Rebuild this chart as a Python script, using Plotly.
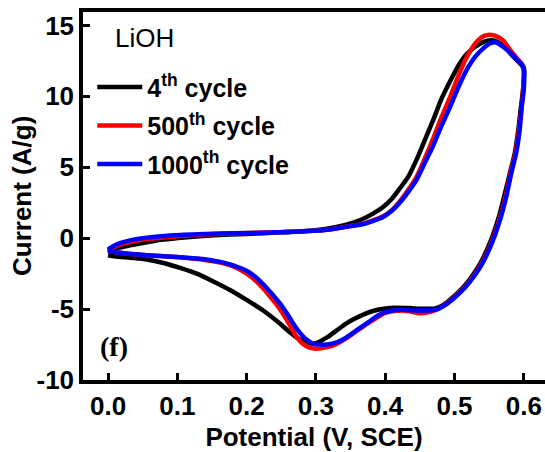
import plotly.graph_objects as go

# 4th cycle (black)
x_4th = [0.0, 0.01, 0.032, 0.06, 0.08, 0.11, 0.152, 0.2, 0.248, 0.296, 0.32, 0.344, 0.365, 0.383, 0.397,
         0.41, 0.421, 0.434, 0.445, 0.457, 0.469, 0.481, 0.494, 0.506, 0.518, 0.53, 0.542, 0.555, 0.565,
         0.575, 0.585, 0.597,
         0.6, 0.599, 0.596, 0.592, 0.587, 0.58, 0.572, 0.564, 0.556, 0.547, 0.537, 0.525, 0.512, 0.497,
         0.484, 0.472, 0.455, 0.435, 0.415, 0.398, 0.385, 0.37, 0.355, 0.344, 0.33, 0.316, 0.305, 0.296,
         0.286, 0.277, 0.267, 0.258, 0.245, 0.224, 0.2, 0.176, 0.152, 0.128, 0.104, 0.08, 0.056, 0.032,
         0.01, 0.0]
y_4th = [-1.0, -0.75, -0.5, -0.25, -0.1, 0.05, 0.2, 0.3, 0.41, 0.55, 0.7, 0.95, 1.3, 1.75, 2.2,
         2.8, 3.5, 4.4, 5.5, 6.9, 8.3, 9.8, 11.1, 12.2, 13.0, 13.5, 13.85, 13.95, 13.75,
         13.35, 12.8, 12.2,
         11.9, 10.5, 9.3, 7.6, 6.0, 4.6, 3.0, 1.5, 0.3, -0.8, -1.8, -2.7, -3.5, -4.2,
         -4.7, -4.95, -4.98, -4.93, -4.9, -4.97, -5.1, -5.35, -5.7, -6.0, -6.5, -7.0, -7.3, -7.45,
         -7.35, -7.15, -6.8, -6.45, -5.9, -5.1, -4.35, -3.65, -3.05, -2.5, -2.1, -1.75, -1.5, -1.38,
         -1.28, -1.2]

# 500th cycle (red)
x_500th = [0.0, 0.01, 0.025, 0.05, 0.08, 0.12, 0.176, 0.248, 0.296, 0.32, 0.344, 0.37, 0.397, 0.41,
           0.421, 0.433, 0.445, 0.457, 0.469, 0.481, 0.494, 0.506, 0.518, 0.532, 0.542, 0.551, 0.56,
           0.57, 0.58, 0.59, 0.597,
           0.6, 0.599, 0.597, 0.593, 0.588, 0.581, 0.574, 0.566, 0.558, 0.549, 0.539, 0.527, 0.514,
           0.499, 0.486, 0.474, 0.46, 0.45, 0.44, 0.425, 0.41, 0.398, 0.388, 0.375, 0.36, 0.344, 0.33,
           0.315, 0.3, 0.29, 0.281, 0.272, 0.264, 0.256, 0.248, 0.236, 0.224, 0.212, 0.2, 0.188, 0.176,
           0.16, 0.142, 0.104, 0.056, 0.02, 0.0]
y_500th = [-0.85, -0.6, -0.35, -0.1, 0.05, 0.2, 0.33, 0.42, 0.52, 0.62, 0.82, 1.05, 1.55, 2.0,
           2.6, 3.4, 4.3, 5.6, 7.0, 8.5, 10.0, 11.5, 12.8, 13.85, 14.25, 14.35, 14.25,
           13.95, 13.3, 12.7, 12.3,
           12.0, 10.5, 9.3, 7.6, 6.0, 4.6, 3.0, 1.5, 0.3, -0.8, -1.8, -2.7, -3.5,
           -4.2, -4.7, -5.05, -5.25, -5.3, -5.2, -5.1, -5.15, -5.3, -5.6, -6.0, -6.5, -7.05, -7.45,
           -7.7, -7.8, -7.7, -7.45, -6.95, -6.3, -5.6, -5.0, -4.25, -3.55, -2.95, -2.5, -2.15, -1.9,
           -1.7, -1.55, -1.35, -1.2, -1.05, -0.9]

# 1000th cycle (blue)
x_1000th = [0.0, 0.008, 0.017, 0.035, 0.056, 0.104, 0.176, 0.248, 0.296, 0.32, 0.344, 0.37, 0.397,
            0.41, 0.421, 0.433, 0.445, 0.457, 0.469, 0.481, 0.494, 0.506, 0.518, 0.53, 0.542, 0.552,
            0.56, 0.57, 0.58, 0.59, 0.597,
            0.6, 0.6, 0.597, 0.594, 0.589, 0.582, 0.575, 0.567, 0.559, 0.55, 0.54, 0.528, 0.515, 0.5,
            0.487, 0.475, 0.46, 0.445, 0.425, 0.41, 0.398, 0.388, 0.375, 0.36, 0.344, 0.33, 0.316,
            0.305, 0.296, 0.288, 0.282, 0.274, 0.267, 0.258, 0.248, 0.236, 0.224, 0.212, 0.2, 0.188,
            0.176, 0.16, 0.142, 0.104, 0.056, 0.02, 0.0]
y_1000th = [-0.8, -0.55, -0.35, -0.12, 0.04, 0.22, 0.34, 0.41, 0.52, 0.62, 0.8, 1.02, 1.5,
            1.95, 2.5, 3.25, 4.1, 5.3, 6.5, 7.9, 9.3, 10.7, 11.9, 12.8, 13.4, 13.75,
            13.8, 13.5, 13.1, 12.6, 12.25,
            12.0, 10.5, 9.3, 7.6, 6.0, 4.6, 3.0, 1.5, 0.3, -0.8, -1.8, -2.7, -3.5, -4.2,
            -4.7, -5.0, -5.1, -5.1, -5.05, -5.1, -5.25, -5.5, -5.95, -6.45, -7.0, -7.35, -7.5,
            -7.5, -7.45, -7.2, -6.95, -6.5, -6.0, -5.3, -4.6, -3.9, -3.25, -2.7, -2.3, -2.05,
            -1.85, -1.65, -1.5, -1.34, -1.2, -1.05, -0.9]

series_names = ["4<sup>th</sup> cycle", "500<sup>th</sup> cycle", "1000<sup>th</sup> cycle"]
series_colors = ["#000000", "#ff0000", "#0000ff"]

x_ticks = [0.0, 0.1, 0.2, 0.3, 0.4, 0.5, 0.6]
x_tick_labels = ["0.0", "0.1", "0.2", "0.3", "0.4", "0.5", "0.6"]
y_ticks = [-10, -5, 0, 5, 10, 15]
y_tick_labels = ["-10", "-5", "0", "5", "10", "15"]

fig = go.Figure()
for i, (xs, ys) in enumerate([(x_4th, y_4th), (x_500th, y_500th), (x_1000th, y_1000th)]):
    fig.add_trace(go.Scatter(
        x=xs, y=ys, mode="lines", name=series_names[i],
        line=dict(color=series_colors[i], width=4.5, shape="spline", smoothing=0.6),
        legendgroup=str(i),
    ))

font_bold = dict(family="Liberation Sans, Arial, sans-serif", size=26, color="black", weight="bold")

fig.update_layout(
    width=545, height=452,
    margin=dict(l=83, r=0, t=12, b=72, autoexpand=False),
    paper_bgcolor="white", plot_bgcolor="white",
    showlegend=True,
    legend=dict(
        x=0.02, y=0.858, xanchor="left", yanchor="top",
        bgcolor="rgba(0,0,0,0)", borderwidth=0,
        font=dict(family="Liberation Sans, Arial, sans-serif", size=25, color="black", weight="bold"),
        tracegroupgap=3, itemwidth=45,
    ),
    xaxis=dict(
        range=[-0.0361, 0.6306], tickmode="array", tickvals=x_ticks, ticktext=x_tick_labels,
        showgrid=False, zeroline=False, showline=True, linecolor="black", linewidth=3.5,
        mirror=True, ticks="inside", ticklen=7, tickwidth=3, tickcolor="black",
        tickfont=font_bold,
        title=dict(text="Potential (V, SCE)", font=font_bold, standoff=9),
    ),
    yaxis=dict(
        range=[-10, 15.95], tickmode="array", tickvals=y_ticks, ticktext=y_tick_labels,
        showgrid=False, zeroline=False, showline=True, linecolor="black", linewidth=3.5,
        mirror=False, ticks="inside", ticklen=7, tickwidth=3, tickcolor="black",
        tickfont=font_bold,
    ),
    annotations=[
        dict(text="<b>Current (A/g)</b>", x=-0.132, y=0.5, xref="paper", yref="paper",
             xanchor="center", yanchor="middle", textangle=-90, showarrow=False,
             font=dict(family="Liberation Sans, Arial, sans-serif", size=26, color="black")),
        dict(text="LiOH", x=0.066, y=0.928, xref="paper", yref="paper", xanchor="left",
             yanchor="middle", showarrow=False,
             font=dict(family="Liberation Sans, Arial, sans-serif", size=26, color="black")),
        dict(text="<b>(f)</b>", x=0.067, y=0.09, xref="paper", yref="paper", xanchor="center",
             yanchor="middle", showarrow=False,
             font=dict(family="Liberation Serif, Times New Roman, serif", size=28, color="black")),
    ],
)

fig.write_html("out.html")
